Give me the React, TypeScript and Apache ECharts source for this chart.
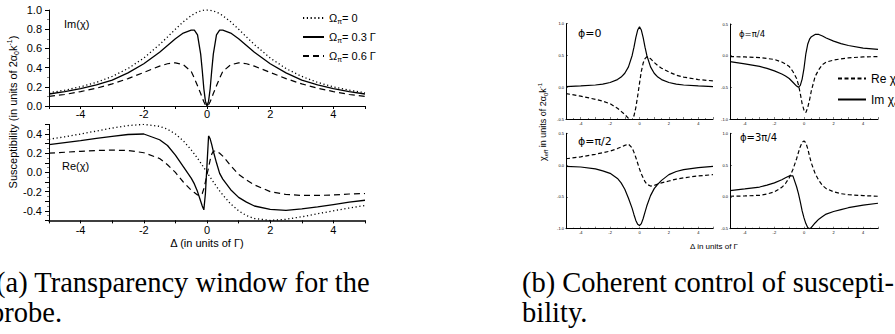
import React, { useEffect, useRef } from 'react';
import * as echarts from 'echarts';

// ---------- (a) transparency window ----------
const deltaA = [-5, -4.5, -4, -3.5, -3, -2.5, -2, -1.5, -1.25, -1, -0.75, -0.5, -0.4, -0.3, -0.2, -0.15, -0.1, -0.05, 0,
  0.05, 0.1, 0.15, 0.2, 0.3, 0.4, 0.5, 0.75, 1, 1.25, 1.5, 2, 2.5, 3, 3.5, 4, 4.5, 5];

const imOmega0 = [0.138, 0.165, 0.2, 0.246, 0.308, 0.39, 0.5, 0.64, 0.719, 0.8, 0.877, 0.941, 0.962, 0.978, 0.99, 0.994, 0.998, 0.999, 1.0,
  0.999, 0.998, 0.994, 0.99, 0.978, 0.962, 0.941, 0.877, 0.8, 0.719, 0.64, 0.5, 0.39, 0.308, 0.246, 0.2, 0.165, 0.138];
const imOmega03 = [0.125, 0.15, 0.18, 0.22, 0.27, 0.345, 0.44, 0.56, 0.63, 0.7, 0.76, 0.79, 0.79, 0.74, 0.54, 0.37, 0.18, 0.05, 0,
  0.05, 0.18, 0.37, 0.54, 0.74, 0.79, 0.79, 0.76, 0.7, 0.63, 0.56, 0.44, 0.345, 0.27, 0.22, 0.18, 0.15, 0.125];
const imOmega06 = [0.1, 0.12, 0.15, 0.185, 0.23, 0.285, 0.35, 0.415, 0.44, 0.45, 0.43, 0.36, 0.29, 0.21, 0.13, 0.085, 0.045, 0.012, 0,
  0.012, 0.045, 0.085, 0.13, 0.21, 0.29, 0.36, 0.43, 0.45, 0.44, 0.415, 0.35, 0.285, 0.23, 0.185, 0.15, 0.12, 0.1];

const reOmega0 = [0.345, 0.371, 0.4, 0.431, 0.462, 0.488, 0.5, 0.48, 0.45, 0.4, 0.329, 0.235, 0.192, 0.147, 0.099, 0.075, 0.05, 0.025, 0,
  -0.025, -0.05, -0.075, -0.099, -0.147, -0.192, -0.235, -0.329, -0.4, -0.45, -0.48, -0.5, -0.488, -0.462, -0.431, -0.4, -0.371, -0.345];
const reOmega03 = [0.29, 0.31, 0.33, 0.355, 0.375, 0.395, 0.4, 0.34, 0.28, 0.18, 0.06, -0.06, -0.12, -0.2, -0.3, -0.35, -0.39, -0.22, 0.08,
  0.38, 0.35, 0.29, 0.22, 0.1, -0.01, -0.07, -0.18, -0.26, -0.31, -0.35, -0.385, -0.395, -0.38, -0.36, -0.335, -0.31, -0.29];
const reOmega06 = [0.2, 0.21, 0.22, 0.228, 0.232, 0.228, 0.205, 0.145, 0.08, 0.0, -0.1, -0.185, -0.21, -0.235, -0.24, -0.22, -0.17, -0.1, -0.02,
  0.05, 0.13, 0.19, 0.22, 0.225, 0.2, 0.17, 0.07, -0.02, -0.08, -0.13, -0.2, -0.23, -0.24, -0.24, -0.235, -0.225, -0.22];

const xLabelsA = [-4, -2, 0, 2, 4];
const yLabelsATop = [0, 0.2, 0.4, 0.6, 0.8, 1.0];
const yLabelsABottom = [-0.4, -0.2, 0, 0.2, 0.4];

// ---------- (b) coherent control ----------
const deltaB = [-5, -4, -3, -2.5, -2, -1.5, -1.25, -1, -0.75, -0.5, -0.375, -0.25, -0.125, 0,
  0.125, 0.25, 0.375, 0.5, 0.75, 1, 1.25, 1.5, 2, 2.5, 3, 4, 5];

const phi0Im = [0.01, 0.02, 0.035, 0.05, 0.075, 0.12, 0.16, 0.22, 0.32, 0.5, 0.63, 0.78, 0.9, 0.95,
  0.9, 0.78, 0.63, 0.5, 0.32, 0.22, 0.16, 0.12, 0.075, 0.05, 0.035, 0.02, 0.01];
const phi0Re = [-0.1, -0.14, -0.19, -0.22, -0.26, -0.33, -0.38, -0.43, -0.49, -0.53, -0.45, -0.32, -0.14, 0.06,
  0.25, 0.38, 0.45, 0.48, 0.45, 0.39, 0.34, 0.3, 0.24, 0.19, 0.16, 0.12, 0.1];
const phi1Im = [-0.095, -0.13, -0.17, -0.2, -0.24, -0.29, -0.32, -0.36, -0.42, -0.48, -0.5, -0.47, -0.37, -0.2,
  0.03, 0.18, 0.26, 0.3, 0.335, 0.335, 0.31, 0.28, 0.23, 0.19, 0.16, 0.12, 0.1];
const phi1Re = [-0.015, -0.02, -0.03, -0.045, -0.06, -0.1, -0.13, -0.17, -0.25, -0.36, -0.46, -0.6, -0.76, -0.86,
  -0.9, -0.82, -0.7, -0.55, -0.33, -0.22, -0.14, -0.1, -0.07, -0.05, -0.035, -0.02, -0.015];
const phi2Im = [-0.02, -0.03, -0.06, -0.09, -0.13, -0.21, -0.28, -0.38, -0.52, -0.68, -0.78, -0.87, -0.93, -0.95,
  -0.92, -0.84, -0.74, -0.64, -0.48, -0.37, -0.3, -0.24, -0.15, -0.1, -0.07, -0.04, -0.02];
const phi2Re = [0.1, 0.13, 0.17, 0.195, 0.22, 0.26, 0.285, 0.31, 0.33, 0.27, 0.2, 0.12, 0.03, -0.06,
  -0.14, -0.2, -0.26, -0.3, -0.33, -0.32, -0.3, -0.28, -0.25, -0.22, -0.2, -0.17, -0.15];
const phi3Im = [0.1, 0.125, 0.155, 0.185, 0.22, 0.27, 0.3, 0.33, 0.33, 0.16, 0.05, -0.08, -0.22, -0.33,
  -0.42, -0.48, -0.5, -0.48, -0.41, -0.35, -0.31, -0.27, -0.23, -0.2, -0.17, -0.13, -0.1];
const phi3Re = [0.01, 0.015, 0.025, 0.045, 0.08, 0.15, 0.21, 0.3, 0.43, 0.6, 0.7, 0.79, 0.86, 0.88,
  0.85, 0.76, 0.64, 0.53, 0.37, 0.26, 0.18, 0.13, 0.08, 0.05, 0.035, 0.02, 0.01];

const xLabelsB = [-4, -2, 0, 2, 4];
const yLabelsB = [-1.0, -0.5, 0, 0.5, 1.0];

const FONT = '"Liberation Sans", Arial, sans-serif';
const SERIF = '"Liberation Serif", "Times New Roman", serif';

const pairs = (xs: number[], ys: number[]) => xs.map((x, i) => [x, ys[i]]);
const pick = (list: number[], fmt: (v: number) => string) => (v: number) =>
  list.some((t) => Math.abs(t - v) < 1e-6) ? fmt(v) : '';
const intFmt = (v: number) => String(Math.round(v));
const decFmt = (v: number) => (Math.abs(v) < 1e-9 ? 0 : v).toFixed(1);

function xAxisCfg(gridIndex: number, small: boolean, labels: number[], margin: number, lineW = 1) {
  return {
    type: 'value', gridIndex, min: -5, max: 5, interval: 1,
    axisLine: { show: true, onZero: false, lineStyle: { color: '#000', width: lineW } },
    axisTick: { show: true, inside: small, length: small ? 2 : 3, lineStyle: { color: '#000', width: small ? 0.5 : 1 } },
    minorTick: { show: small, splitNumber: 2, length: 1, lineStyle: { color: '#000', width: 0.5 } },
    axisLabel: { formatter: pick(labels, intFmt), fontSize: small ? 4 : 11, fontFamily: FONT, color: '#000', margin },
    splitLine: { show: false },
  };
}
function yAxisCfg(gridIndex: number, small: boolean, min: number, max: number, interval: number, labels: number[], margin: number) {
  return {
    type: 'value', gridIndex, min, max, interval,
    axisLine: { show: true, onZero: false, lineStyle: { color: '#000', width: 1 } },
    axisTick: { show: true, inside: small, length: small ? 2 : 4, lineStyle: { color: '#000', width: small ? 0.5 : 1 } },
    minorTick: { show: true, splitNumber: small ? 5 : 2, length: small ? 1 : 2, lineStyle: { color: '#000', width: 0.5 } },
    axisLabel: { formatter: pick(labels, decFmt), fontSize: small ? 4 : 11, fontFamily: FONT, color: '#000', margin },
    splitLine: { show: false },
  };
}

const DOT = { color: '#000', width: 1.3, type: [1.2, 2.6] };
const SOLID = { color: '#000', width: 1.3, type: 'solid' };
const DASH = { color: '#000', width: 1.2, type: [6, 4] };
const DASH_B = { color: '#000', width: 1.2, type: [4, 2.5] };
const SOLID_B = { color: '#000', width: 1.2, type: 'solid' };

function line(name: string, idx: number, xs: number[], ys: number[], style: any) {
  return {
    type: 'line', name, xAxisIndex: idx, yAxisIndex: idx, data: pairs(xs, ys),
    showSymbol: false, symbol: 'none', lineStyle: style, itemStyle: { color: '#000' },
    clip: true, silent: true,
  };
}

const N0 = 'Ω_π= 0';
const N3 = 'Ω_π= 0.3 Γ';
const N6 = 'Ω_π= 0.6 Γ';
const NRE = 'Re χ_eff';
const NIM = 'Im χ_eff';

const subRich = {
  s: { fontSize: 7, lineHeight: 7, verticalAlign: 'bottom', fontFamily: FONT, color: '#000' },
};
const subRichB = {
  s: { fontSize: 8, lineHeight: 8, verticalAlign: 'bottom', fontFamily: FONT, color: '#000' },
};
const hiddenSymbol = { color: 'rgba(0,0,0,0)', borderColor: 'rgba(0,0,0,0)', borderWidth: 0 };

function txt(text: string, x: number, y: number, fontSize: number, extra: any = {}) {
  return {
    type: 'text', x, y, silent: true,
    style: { text, fontSize, fontFamily: FONT, fill: '#000', verticalAlign: 'middle', ...extra },
  };
}

const option: any = {
  animation: false,
  backgroundColor: '#fff',
  grid: [
    { left: 49, top: 10, width: 316, height: 96 },
    { left: 49, top: 124.4, width: 316, height: 96 },
    { left: 566, top: 23.7, width: 147, height: 95.3 },
    { left: 730, top: 24, width: 148, height: 95 },
    { left: 566, top: 133.3, width: 147, height: 95.4 },
    { left: 730, top: 133.3, width: 148, height: 95.4 },
  ],
  xAxis: [
    xAxisCfg(0, false, xLabelsA, 2),
    xAxisCfg(1, false, xLabelsA, 4, 1.5),
    xAxisCfg(2, true, xLabelsB, 2),
    xAxisCfg(3, true, xLabelsB, 2),
    xAxisCfg(4, true, xLabelsB, 2),
    xAxisCfg(5, true, xLabelsB, 2),
  ],
  yAxis: [
    yAxisCfg(0, false, 0, 1, 0.2, yLabelsATop, 7),
    yAxisCfg(1, false, -0.5, 0.5, 0.1, yLabelsABottom, 7),
    yAxisCfg(2, true, -0.5, 1, 0.5, yLabelsB, 2),
    yAxisCfg(3, true, -1, 0.5, 0.5, yLabelsB, 2),
    yAxisCfg(4, true, -1, 0.5, 0.5, yLabelsB, 2),
    yAxisCfg(5, true, -0.5, 1, 0.5, yLabelsB, 2),
  ],
  legend: [
    {
      data: [N0, N3, N6], left: 297, top: 6, orient: 'vertical', itemWidth: 21, itemHeight: 12, itemGap: 5,
      selectedMode: false, itemStyle: hiddenSymbol,
      formatter: (n: string) => n.replace('_π', '{s|π}'),
      textStyle: { fontSize: 11, fontFamily: FONT, color: '#000', lineHeight: 14, rich: subRich },
    },
    {
      data: [NRE, NIM], left: 832, top: 66, orient: 'vertical', itemWidth: 28, itemHeight: 14, itemGap: 6,
      selectedMode: false, itemStyle: hiddenSymbol,
      formatter: (n: string) => n.replace('_eff', '{s|eff}'),
      textStyle: { fontSize: 12, fontFamily: FONT, color: '#000', lineHeight: 15, rich: subRichB },
    },
  ],
  series: [
    line(N0, 0, deltaA, imOmega0, DOT),
    line(N3, 0, deltaA, imOmega03, SOLID),
    line(N6, 0, deltaA, imOmega06, DASH),
    line(N0, 1, deltaA, reOmega0, DOT),
    line(N3, 1, deltaA, reOmega03, SOLID),
    line(N6, 1, deltaA, reOmega06, DASH),
    line(NRE, 2, deltaB, phi0Re, DASH_B),
    line(NIM, 2, deltaB, phi0Im, SOLID_B),
    line(NRE, 3, deltaB, phi1Re, DASH_B),
    line(NIM, 3, deltaB, phi1Im, SOLID_B),
    line(NRE, 4, deltaB, phi2Re, DASH_B),
    line(NIM, 4, deltaB, phi2Im, SOLID_B),
    line(NRE, 5, deltaB, phi3Re, DASH_B),
    line(NIM, 5, deltaB, phi3Im, SOLID_B),
  ],
  graphic: [
    txt('Im(χ)', 64, 24, 11),
    txt('Re(χ)', 62, 166, 11),
    txt('Δ (in units of Γ)', 207, 243, 11, { align: 'center' }),
    {
      type: 'text', x: 13, y: 112, rotation: Math.PI / 2, silent: true,
      style: {
        text: 'Susceptibility (in units of 2α{s|0}k{p|-1})', fontSize: 11, fontFamily: FONT, fill: '#000',
        align: 'center', verticalAlign: 'middle', lineHeight: 14,
        rich: {
          s: { fontSize: 7, lineHeight: 7, verticalAlign: 'bottom', fontFamily: FONT, fill: '#000' },
          p: { fontSize: 7, lineHeight: 7, verticalAlign: 'top', fontFamily: FONT, fill: '#000' },
        },
      },
    },
    {
      type: 'text', x: 543, y: 122, rotation: Math.PI / 2, silent: true,
      style: {
        text: 'χ{s|eff} in units of 2α{s|0}k{p|-1}', fontSize: 9, fontFamily: FONT, fill: '#000',
        align: 'center', verticalAlign: 'middle', lineHeight: 12,
        rich: {
          s: { fontSize: 6, lineHeight: 6, verticalAlign: 'bottom', fontFamily: FONT, fill: '#000' },
          p: { fontSize: 6, lineHeight: 6, verticalAlign: 'top', fontFamily: FONT, fill: '#000' },
        },
      },
    },
    txt('Δ in units of Γ', 714, 246, 8, { align: 'center' }),
    txt('ϕ=0', 578, 33, 11, { fontFamily: '"DejaVu Sans", ' + FONT }),
    txt('ϕ=π/4', 739, 34, 8.5, { fontFamily: '"DejaVu Sans", ' + FONT }),
    txt('ϕ=π/2', 578, 141, 11, { fontFamily: '"DejaVu Sans", ' + FONT }),
    txt('ϕ=3π/4', 740, 137, 10, { fontFamily: '"DejaVu Sans", ' + FONT }),
    txt('(a) Transparency window for the', -4, 282, 28.5, { fontFamily: SERIF }),
    txt('probe.', -10, 312, 28.5, { fontFamily: SERIF }),
    txt('(b) Coherent control of suscepti-', 522, 282, 28.5, { fontFamily: SERIF }),
    txt('bility.', 522, 312, 28.5, { fontFamily: SERIF }),
  ],
};

export default function App() {
  const ref = useRef<HTMLDivElement>(null);
  useEffect(() => {
    document.body.style.margin = '0';
    const chart = echarts.init(ref.current!, undefined, { renderer: 'svg' });
    chart.setOption(option);
    return () => chart.dispose();
  }, []);
  return <div ref={ref} style={{ width: 895, height: 334 }} />;
}
